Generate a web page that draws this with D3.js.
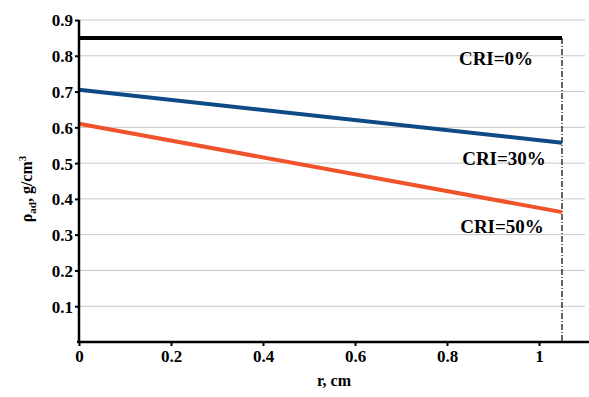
<!DOCTYPE html>
<html>
<head>
<meta charset="utf-8">
<script src="https://cdn.jsdelivr.net/npm/d3@7"></script>
<style>
  body { margin: 0; background: #fff; }
  text { font-family: "Liberation Serif", "Times New Roman", serif; font-weight: bold; }
</style>
</head>
<body>
<svg id="chart" width="589" height="397"></svg>
<script>
// radial distance, cm
const rValues = [0, 1.05];
// apparent density for each CRI level
const cri0 = [0.85, 0.85];
const cri30 = [0.705, 0.557];
const cri50 = [0.61, 0.363];
const seriesNames = ['CRI=0%', 'CRI=30%', 'CRI=50%'];
const seriesColors = ['#000000', '#0d4a86', '#f0522a'];
const labelValues = [0.775, 0.495, 0.306];
const yTicks = [0.1, 0.2, 0.3, 0.4, 0.5, 0.6, 0.7, 0.8, 0.9];
const xTicks = [0, 0.2, 0.4, 0.6, 0.8, 1];
const boundaryR = 1.05;

const serif = '"Liberation Serif", "Times New Roman", serif';
const svg = d3.select('#chart');
const x = d3.scaleLinear().domain([0, 1.1]).range([79, 585]);
const y = d3.scaleLinear().domain([0, 0.9]).range([342, 20]);

// gridlines
svg.append('g')
  .selectAll('line')
  .data(yTicks)
  .enter()
  .append('line')
  .attr('x1', x(0)).attr('x2', x(1.1))
  .attr('y1', d => y(d)).attr('y2', d => y(d))
  .attr('stroke', '#c8c8c8')
  .attr('stroke-width', 1);

// boundary marker
svg.append('line')
  .attr('x1', x(boundaryR)).attr('x2', x(boundaryR))
  .attr('y1', y(cri0[1])).attr('y2', y(0))
  .attr('stroke', '#000')
  .attr('stroke-width', 1.2)
  .attr('stroke-dasharray', '6,2,1,2');

const series = [cri0, cri30, cri50];
const line = d3.line()
  .x((d, i) => x(rValues[i]))
  .y(d => y(d));

series.forEach((vals, k) => {
  svg.append('path')
    .datum(vals)
    .attr('d', line)
    .attr('fill', 'none')
    .attr('stroke', seriesColors[k])
    .attr('stroke-width', 4);
});

// series labels
svg.append('g')
  .selectAll('text')
  .data(seriesNames)
  .enter()
  .append('text')
  .attr('x', (d, i) => [496, 504, 502][i])
  .attr('y', (d, i) => y(labelValues[i]))
  .attr('text-anchor', 'middle')
  .attr('font-size', 19)
  .text(d => d);

// axes
const yAxis = d3.axisLeft(y).tickValues(yTicks).tickSize(4).tickFormat(d3.format('.1f'));
const yg = svg.append('g').attr('transform', `translate(${x(0)},0)`).call(yAxis)
  .attr('font-family', serif).attr('font-size', 17);
yg.select('.domain').attr('stroke-width', 2.5).attr('d', `M0,${y(0.9)}V${y(0) + 1}`);
yg.selectAll('.tick line').attr('stroke-width', 2);
yg.selectAll('.tick text').attr('x', -6).attr('dy', '0.35em');

const xAxis = d3.axisBottom(x).tickValues(xTicks).tickSize(4).tickFormat(d => d);
const xg = svg.append('g').attr('transform', `translate(0,${y(0)})`).call(xAxis)
  .attr('font-family', serif).attr('font-size', 17);
xg.select('.domain').attr('stroke-width', 2.5).attr('d', `M${x(0) - 2},0H589`);
xg.selectAll('.tick line').attr('stroke-width', 2);
xg.selectAll('.tick text').attr('y', 20).attr('dy', 0);

// axis titles
svg.append('text')
  .attr('x', x(0.55) + 2)
  .attr('y', 386)
  .attr('text-anchor', 'middle')
  .attr('font-size', 16)
  .text('r, cm');

const yt = svg.append('text')
  .attr('transform', 'translate(32,189) rotate(-90)')
  .attr('text-anchor', 'middle')
  .attr('font-size', 16);
yt.append('tspan').text('ρ');
yt.append('tspan').attr('font-size', 11).attr('dy', 4).text('ad');
yt.append('tspan').attr('dy', -4).text(', g/cm');
yt.append('tspan').attr('font-size', 11).attr('dy', -6).text('3');
</script>
</body>
</html>
